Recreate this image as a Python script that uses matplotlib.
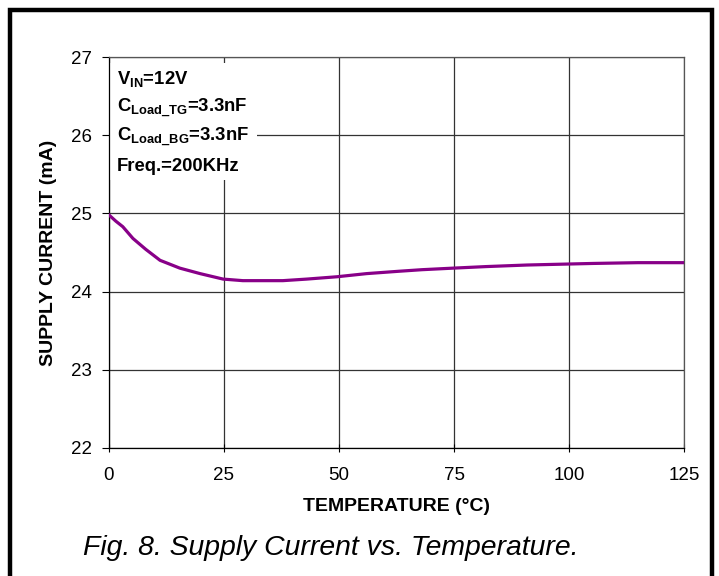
import matplotlib
matplotlib.use("Agg")
import matplotlib.pyplot as plt
from matplotlib.patches import Rectangle

# data
temp = [0, 1.5, 3, 5.2, 8, 11.1, 15.4, 19.8, 24.8, 29.1, 33, 37.8, 43, 49.6,
        56, 63, 68, 74.8, 82, 90.9, 98, 105.2, 115, 125]
current = [24.98, 24.90, 24.83, 24.68, 24.54, 24.40, 24.30, 24.23, 24.16, 24.14,
           24.14, 24.14, 24.16, 24.19, 24.23, 24.26, 24.28, 24.30, 24.32, 24.34,
           24.35, 24.36, 24.37, 24.37]
xticks = [0, 25, 50, 75, 100, 125]
yticks = [22, 23, 24, 25, 26, 27]
notes = [r'V$_{\mathbf{IN}}$=12V', r'C$_{\mathbf{Load\_TG}}$=3.3nF',
         r'C$_{\mathbf{Load\_BG}}$=3.3nF', 'Freq.=200KHz']

plt.rcParams['font.family'] = ['Liberation Sans', 'DejaVu Sans']
plt.rcParams['mathtext.fontset'] = 'custom'
plt.rcParams['mathtext.bf'] = 'Liberation Sans:bold'
plt.rcParams['mathtext.rm'] = 'Liberation Sans'

fig = plt.figure(figsize=(7.19, 5.76), dpi=100)
fig.patches.append(Rectangle((10/719, -0.05), 702/719, 1.05 - 10/576,
                             transform=fig.transFigure, fill=False,
                             edgecolor='black', linewidth=3.2))

ax = fig.add_axes([109/719, 1 - 448/576, (684-109)/719, (448-57)/576])
ax.plot(temp, current, color='#880088', linewidth=2.3, zorder=4)
ax.set_xlim(0, 125)
ax.set_ylim(22, 27)
ax.set_xticks(xticks)
ax.set_yticks(yticks)
ax.grid(True, color='#333333', linewidth=0.9)
ax.set_axisbelow(True)
for s in ax.spines.values():
    s.set_color('#555555')
    s.set_linewidth(0.9)
ax.spines['left'].set_color('black')
ax.spines['bottom'].set_color('black')
ax.tick_params(axis='y', direction='out', length=5, labelsize=13.5, pad=7)
ax.tick_params(axis='x', direction='inout', length=6, labelsize=13.5, pad=11)

ax.set_xlabel('TEMPERATURE (°C)', fontsize=14, fontweight='bold', labelpad=10)
ax.set_ylabel('SUPPLY CURRENT (mA)', fontsize=14, fontweight='bold', labelpad=10)

# white panel behind the condition notes
ax.add_patch(Rectangle((0.002, 0.685), 0.255, 0.30, transform=ax.transAxes,
                       facecolor='white', edgecolor='none', zorder=2))
for i, t in enumerate(notes):
    ax.text(0.014, 0.944 - i*0.0745, t, transform=ax.transAxes, fontsize=13.3,
            fontweight='bold', va='center', ha='left', zorder=3)

fig.text(83/719, 1 - 548/576, 'Fig. 8. Supply Current vs. Temperature.',
         fontsize=20.4, fontstyle='italic', va='center', ha='left')

fig.savefig('out.png', dpi=100)
